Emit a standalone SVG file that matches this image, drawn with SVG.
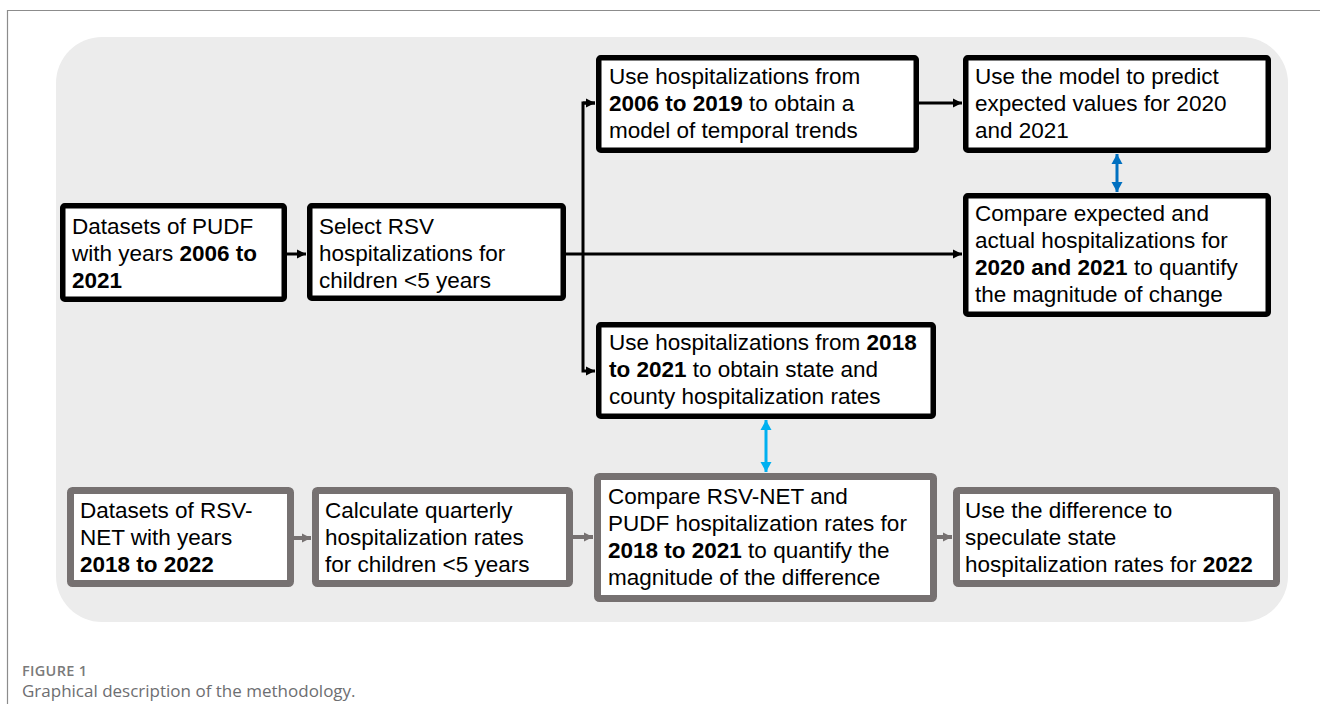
<svg xmlns="http://www.w3.org/2000/svg" width="1320" height="704" viewBox="0 0 1320 704">
<defs>
<style>
.t{font-family:"Liberation Sans",Arial,sans-serif;font-size:22.5px;fill:#000}
.b{font-weight:bold}
.bx{fill:#fff;stroke:#000;stroke-width:5.5}
.gx{fill:#fff;stroke:#767171;stroke-width:7}
.k{fill:none;stroke:#000;stroke-width:3}
.g{fill:none;stroke:#767171;stroke-width:4}
</style>
<marker id="ak" markerUnits="userSpaceOnUse" markerWidth="10" markerHeight="10" refX="9" refY="5" orient="auto"><path d="M0,0.5 L9,5 L0,9.5 Z" fill="#000"/></marker>
<marker id="ag" markerUnits="userSpaceOnUse" markerWidth="10" markerHeight="10" refX="9" refY="5" orient="auto"><path d="M0,0.5 L9,5 L0,9.5 Z" fill="#767171"/></marker>
<marker id="ab" markerUnits="userSpaceOnUse" markerWidth="12" markerHeight="12" refX="10" refY="6" orient="auto-start-reverse"><path d="M0,0.5 L10,6 L0,11.5 Z" fill="#0070c0"/></marker>
<marker id="al" markerUnits="userSpaceOnUse" markerWidth="12" markerHeight="12" refX="10" refY="6" orient="auto-start-reverse"><path d="M0,0.5 L10,6 L0,11.5 Z" fill="#00b0f0"/></marker>
</defs>
<rect width="1320" height="704" fill="#fff"/>
<path d="M7.5,704 V10.5 H1320" fill="none" stroke="#8c8c8c" stroke-width="1.2"/>
<rect x="56" y="37" width="1232" height="585" rx="46" fill="#ececec"/>

<g id="connectors">
<line class="k" x1="287" y1="254" x2="306" y2="254" marker-end="url(#ak)"/>
<line class="k" x1="566" y1="254" x2="962" y2="254" marker-end="url(#ak)"/>
<polyline class="k" points="595,103 583,103 583,371 595,371" marker-end="url(#ak)"/>
<line class="k" x1="583" y1="103" x2="595" y2="103" marker-end="url(#ak)"/>
<line class="k" x1="919" y1="103" x2="962" y2="103" marker-end="url(#ak)"/>
<line x1="1117" y1="154" x2="1117" y2="192" stroke="#0070c0" stroke-width="3" marker-start="url(#ab)" marker-end="url(#ab)"/>
<line x1="766" y1="420" x2="766" y2="472" stroke="#00b0f0" stroke-width="3" marker-start="url(#al)" marker-end="url(#al)"/>
<line class="g" x1="294" y1="538" x2="311" y2="538" marker-end="url(#ag)"/>
<line class="g" x1="573" y1="537" x2="593" y2="537" marker-end="url(#ag)"/>
<line class="g" x1="937" y1="537" x2="952" y2="537" marker-end="url(#ag)"/>
</g>

<g id="pudf">
<rect class="bx" x="62.75" y="205.75" width="221.5" height="93.5" rx="2"/>
<text class="t"><tspan x="72" y="234">Datasets of PUDF</tspan><tspan x="72" y="261">with years <tspan class="b">2006 to</tspan></tspan><tspan x="72" y="288" class="b">2021</tspan></text>
</g>
<g id="select">
<rect class="bx" x="309.75" y="205.75" width="253.5" height="92.5" rx="2"/>
<text class="t"><tspan x="319" y="234">Select RSV</tspan><tspan x="319" y="261">hospitalizations for</tspan><tspan x="319" y="288">children &lt;5 years</tspan></text>
</g>
<g id="model">
<rect class="bx" x="598.75" y="57.75" width="317.5" height="92.5" rx="2"/>
<text class="t"><tspan x="609" y="84">Use hospitalizations from</tspan><tspan x="609" y="111"><tspan class="b">2006 to 2019</tspan> to obtain a</tspan><tspan x="609" y="138">model of temporal trends</tspan></text>
</g>
<g id="predict">
<rect class="bx" x="965.75" y="57.75" width="302.5" height="92.5" rx="2"/>
<text class="t"><tspan x="975" y="84">Use the model to predict</tspan><tspan x="975" y="111">expected values for 2020</tspan><tspan x="975" y="138">and 2021</tspan></text>
</g>
<g id="compare-expected">
<rect class="bx" x="965.75" y="195.75" width="302.5" height="118.5" rx="2"/>
<text class="t"><tspan x="975" y="221">Compare expected and</tspan><tspan x="975" y="248">actual hospitalizations for</tspan><tspan x="975" y="275"><tspan class="b">2020 and 2021</tspan> to quantify</tspan><tspan x="975" y="302">the magnitude of change</tspan></text>
</g>
<g id="rates">
<rect class="bx" x="598.75" y="324.75" width="334.5" height="91.5" rx="2"/>
<text class="t"><tspan x="609" y="350">Use hospitalizations from <tspan class="b">2018</tspan></tspan><tspan x="609" y="377"><tspan class="b">to 2021</tspan> to obtain state and</tspan><tspan x="609" y="404">county hospitalization rates</tspan></text>
</g>
<g id="rsvnet">
<rect class="gx" x="70.5" y="490.5" width="220" height="93" rx="2"/>
<text class="t"><tspan x="80" y="518">Datasets of RSV-</tspan><tspan x="80" y="545">NET with years</tspan><tspan x="80" y="572" class="b">2018 to 2022</tspan></text>
</g>
<g id="quarterly">
<rect class="gx" x="315.5" y="490.5" width="254" height="93" rx="2"/>
<text class="t"><tspan x="325" y="518">Calculate quarterly</tspan><tspan x="325" y="545">hospitalization rates</tspan><tspan x="325" y="572">for children &lt;5 years</tspan></text>
</g>
<g id="compare-net">
<rect class="gx" x="597.5" y="476.5" width="336" height="122" rx="2"/>
<text class="t"><tspan x="608" y="504">Compare RSV-NET and</tspan><tspan x="608" y="531">PUDF hospitalization rates for</tspan><tspan x="608" y="558"><tspan class="b">2018 to 2021</tspan> to quantify the</tspan><tspan x="608" y="585">magnitude of the difference</tspan></text>
</g>
<g id="speculate">
<rect class="gx" x="956.5" y="490.5" width="320" height="93" rx="2"/>
<text class="t"><tspan x="965" y="518">Use the difference to</tspan><tspan x="965" y="545">speculate state</tspan><tspan x="965" y="572">hospitalization rates for <tspan class="b">2022</tspan></tspan></text>
</g>

<text x="22" y="676" font-family="'Open Sans',sans-serif" font-size="14.5" font-weight="600" letter-spacing="0.3" fill="#7a7a7a">FIGURE 1</text>
<text x="22" y="697" font-family="'Open Sans',sans-serif" font-size="17" fill="#6d6e71">Graphical description of the methodology.</text>
</svg>
